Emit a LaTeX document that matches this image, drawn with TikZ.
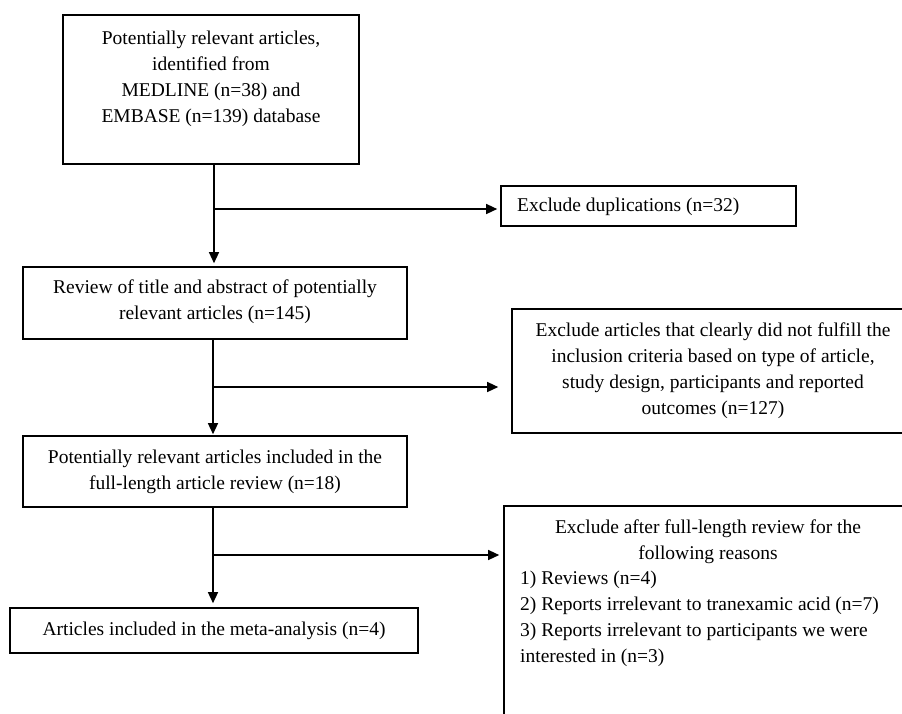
\documentclass[tikz,border=0pt]{standalone}
\usepackage{fontspec}
\setmainfont{Liberation Serif}
\usetikzlibrary{arrows.meta,calc}
\begin{document}
\begin{tikzpicture}[x=1pt,y=-1pt,
  box/.style={draw,line width=1.6pt,inner sep=0pt,rectangle},
  txt/.style={inner sep=0pt,font=\fontsize{19.5}{25.8}\selectfont},
  arr/.style={line width=1.3pt,-{Triangle[length=11pt,width=10pt]}},
  ln/.style={line width=1.3pt}]
\useasboundingbox (0,0) rectangle (902,713);
\clip (0,0) rectangle (902,713);
% boxes
\node[box,minimum width=296pt,minimum height=149pt] (b1) at (211,89.5) {};
\node[box,minimum width=384pt,minimum height=72pt] (b2) at (215,303) {};
\node[box,minimum width=295pt,minimum height=40pt] (dup) at (648.5,206) {};
\node[box,minimum width=403pt,minimum height=124pt] (crit) at (713.5,371) {};
\node[box,minimum width=384pt,minimum height=71pt] (b3) at (215,471.5) {};
\node[box,minimum width=408pt,minimum height=45pt] (b4) at (214,630.5) {};
\node[box,minimum width=410pt,minimum height=260pt] (rs) at (709,636) {};
% texts
\node[txt,align=center,anchor=north] (t1) at (211,31) {Potentially relevant articles,\\identified from\\MEDLINE (n=38) and\\EMBASE (n=139) database};
\node[txt,align=center,anchor=north] (t2) at (215,280) {Review of title and abstract of potentially\\relevant articles (n=145)};
\node[txt,anchor=north west] (tdup) at (517,198) {Exclude duplications (n=32)};
\node[txt,align=center,anchor=north] (tcrit) at (713,323) {Exclude articles that clearly did not fulfill the\\inclusion criteria based on type of article,\\study design, participants and reported\\outcomes (n=127)};
\node[txt,align=center,anchor=north] (t3) at (215,450) {Potentially relevant articles included in the\\full-length article review (n=18)};
\node[txt,anchor=north] (t4) at (214,622) {Articles included in the meta-analysis (n=4)};
\node[txt,align=center,anchor=north] (trs) at (708,520) {Exclude after full-length review for the\\following reasons};
\node[txt,align=left,anchor=north west] (trl) at (520,571) {1) Reviews (n=4)\\2) Reports irrelevant to tranexamic acid (n=7)\\3) Reports irrelevant to participants we were\\interested in (n=3)};
% junctions
\coordinate (j1) at (214,209);
\coordinate (j2) at (213,387);
\coordinate (j3) at (213,555);
% connectors
\draw[arr,shorten >=3pt] (b1.south -| j1) -- (b2.north -| j1);
\draw[arr,shorten >=3pt] (j1) -- (dup.west |- j1);
\draw[arr,shorten >=1pt] (b2.south -| j2) -- (b3.north -| j2);
\draw[arr,shorten >=13pt] (j2) -- (crit.west |- j2);
\draw[arr,shorten >=4pt] (b3.south -| j3) -- (b4.north -| j3);
\draw[arr,shorten >=4pt] (j3) -- (rs.west |- j3);
\end{tikzpicture}
\end{document}
